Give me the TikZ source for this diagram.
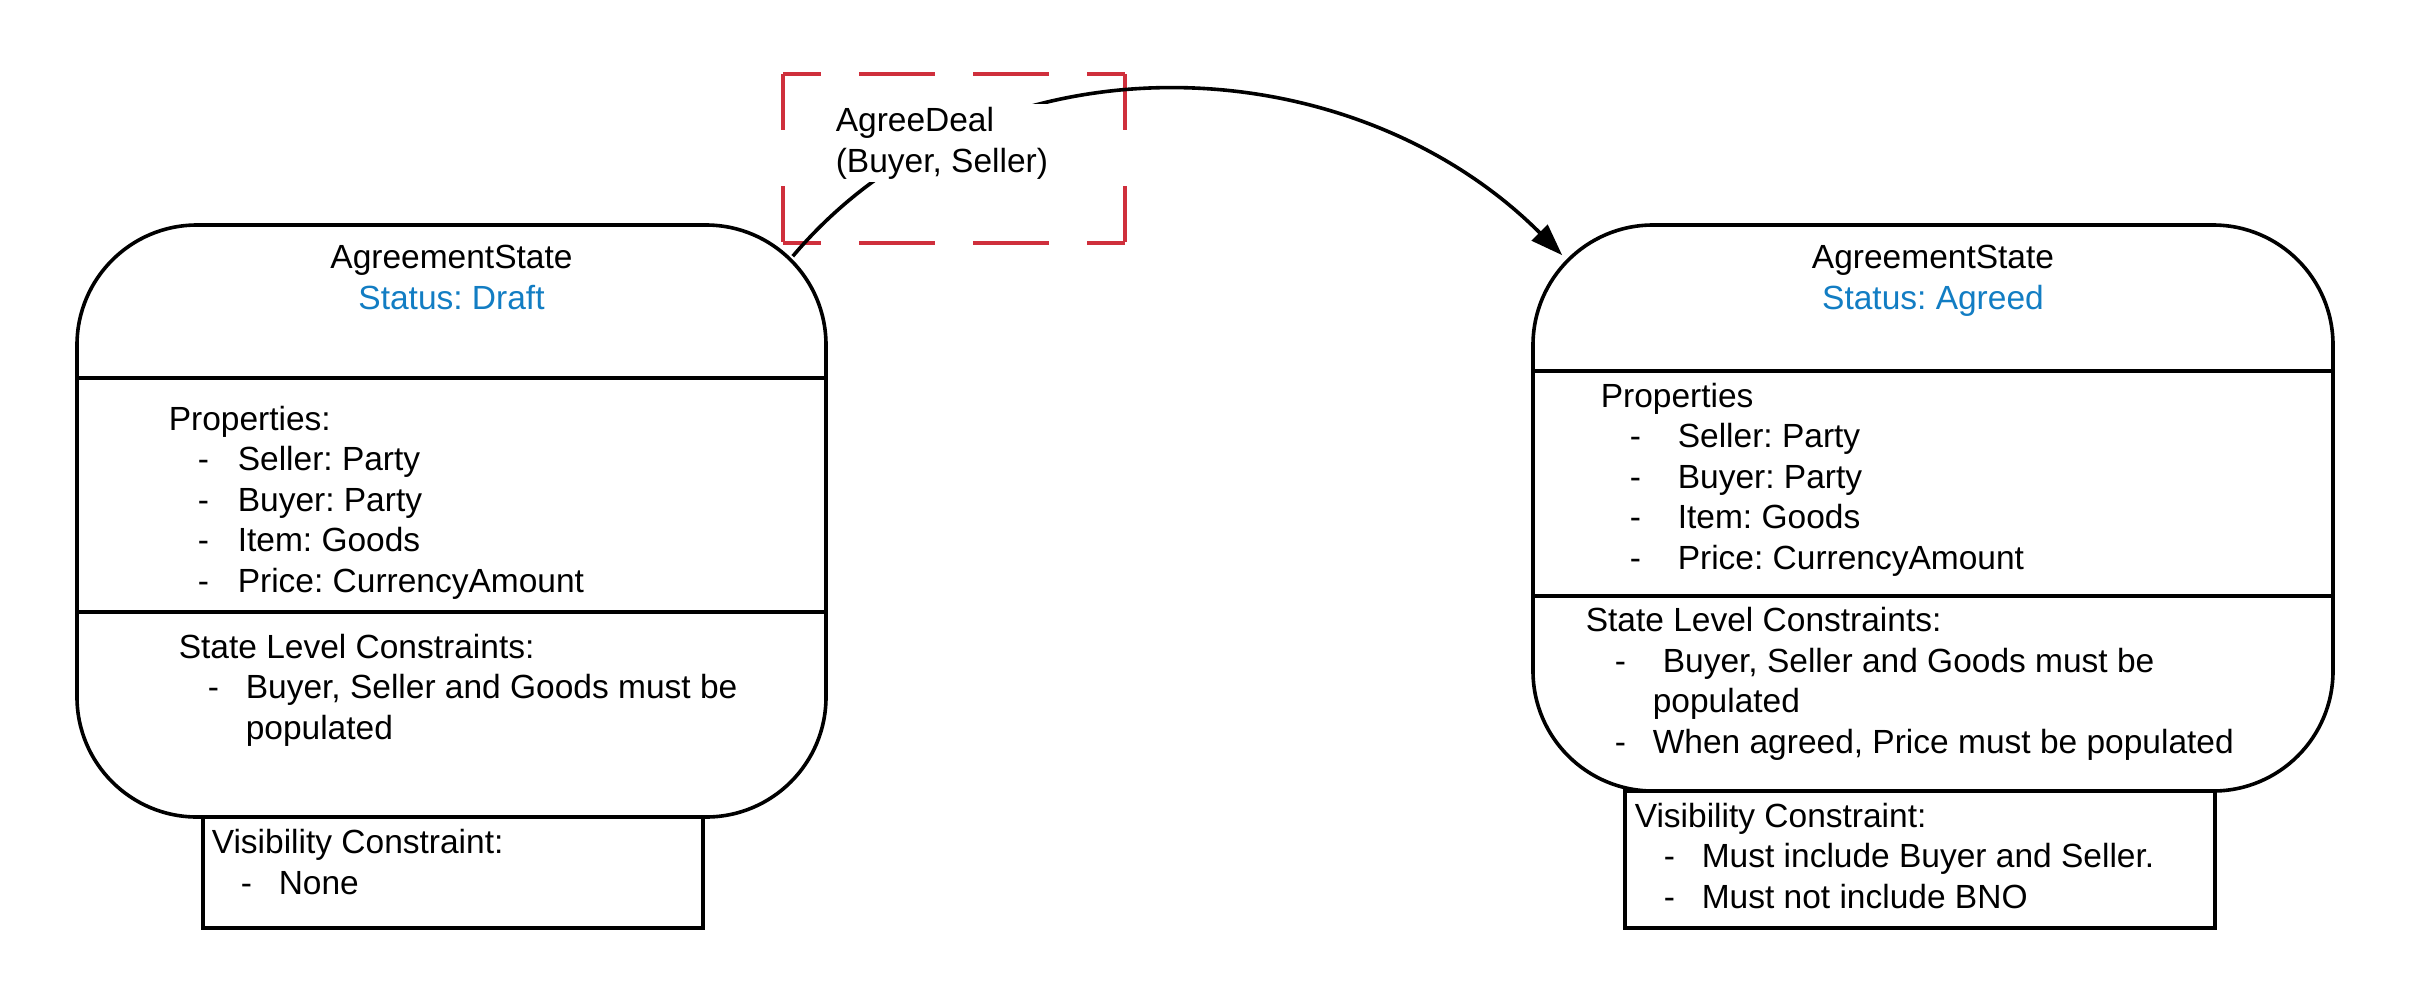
\documentclass[tikz,border=0pt]{standalone}
\usepackage{fontspec}
\setmainfont{Liberation Sans}
\usepackage{xcolor}
\usepackage{tikz}
\usetikzlibrary{arrows.meta,calc}
\definecolor{statusblue}{RGB}{18,125,195}
\definecolor{dealred}{RGB}{207,47,60}
\newcommand{\ditem}[2]{\hspace*{14.5pt}\makebox[#1][l]{-}#2}
\frenchspacing

\begin{document}
\begin{tikzpicture}[x=0.5pt,y=-0.5pt,line width=1.8pt,
  font=\fontsize{16.75}{20.25}\selectfont,
  state/.style={rectangle,draw,rounded corners=60pt,inner sep=0pt},
  visbox/.style={rectangle,draw,inner sep=0pt},
  txt/.style={anchor=base west,align=left,inner sep=0pt},
  reddash/.style={draw=dealred,line width=1.75pt}]
\useasboundingbox (0,0) rectangle (2411,1003);
%\draw[help lines] (0,0) grid (2411,1003);
\path (451.5,521) node(draft) [state,minimum width=374.5pt,minimum height=296pt] {}
(1933,508) node(agreed) [state,minimum width=400pt,minimum height=283pt] {}
(453,872.5) node(draftvis) [visbox,minimum width=250pt,minimum height=55.5pt] {}
(1920,859.5) node(agreedvis) [visbox,minimum width=295pt,minimum height=68.5pt] {};
\draw (draft.west |- 0,378) -- (draft.east |- 0,378);
\draw (draft.west |- 0,612) -- (draft.east |- 0,612);
\draw (agreed.west |- 0,371) -- (agreed.east |- 0,371);
\draw (agreed.west |- 0,596) -- (agreed.east |- 0,596);
% left state (nodes sit on the baseline of their last line)
\path (451.5,309) node(drafthead) [anchor=base,align=center,inner sep=0pt] {AgreementState\\\textcolor{statusblue}{Status: Draft}}
(167,592) node(draftprops) [txt] {Properties:\\\ditem{20pt}{Seller: Party}\\\ditem{20pt}{Buyer: Party}\\\ditem{20pt}{Item: Goods}\\\ditem{20pt}{Price: CurrencyAmount}}
(177,739) node(draftcons) [txt] {State Level Constraints:\\\ditem{19pt}{Buyer, Seller and Goods must be}\\\hspace*{33.5pt}populated}
(210,894) node(draftvistxt) [txt] {Visibility Constraint:\\\ditem{19pt}{None}};
% right state
\path (1933,309) node(agreedhead) [anchor=base,align=center,inner sep=0pt] {AgreementState\\\textcolor{statusblue}{Status: Agreed}}
(1599,569) node(agreedprops) [txt] {Properties\\\ditem{24pt}{Seller: Party}\\\ditem{24pt}{Buyer: Party}\\\ditem{24pt}{Item: Goods}\\\ditem{24pt}{Price: CurrencyAmount}}
(1584,753) node(agreedcons) [txt] {State Level Constraints:\\\ditem{24pt}{Buyer, Seller and Goods must be}\\\hspace*{33.5pt}populated\\\ditem{19pt}{When agreed, Price must be populated}}
(1633,908) node(agreedvistxt) [txt] {Visibility Constraint:\\\ditem{19pt}{Must include Buyer and Seller.}\\\ditem{19pt}{Must not include BNO}};
% transition
\draw[reddash,dash pattern=on 38pt off 19pt,dash phase=19pt] (783,74) -- (1125,74);
\draw[reddash,dash pattern=on 38pt off 19pt,dash phase=19pt] (783,243) -- (1125,243);
\draw[reddash,dash pattern=on 28pt off 28pt] (783,74) -- (783,243);
\draw[reddash,dash pattern=on 28pt off 28pt] (1125,74) -- (1125,243);
\coordinate (dealstart) at ($(draft.north east)+(-35,33)$);
\coordinate (dealend) at ($(agreed.north west)+(31,32)$);
\draw[-{Triangle[length=16pt,width=11pt]}] (dealstart) .. controls +(193,-228) and +(-213,-213) .. (dealend);
\path (831,172) node(deal) [txt,fill=white,inner sep=1.5pt] {AgreeDeal\\(Buyer, Seller)};
\end{tikzpicture}
\end{document}
